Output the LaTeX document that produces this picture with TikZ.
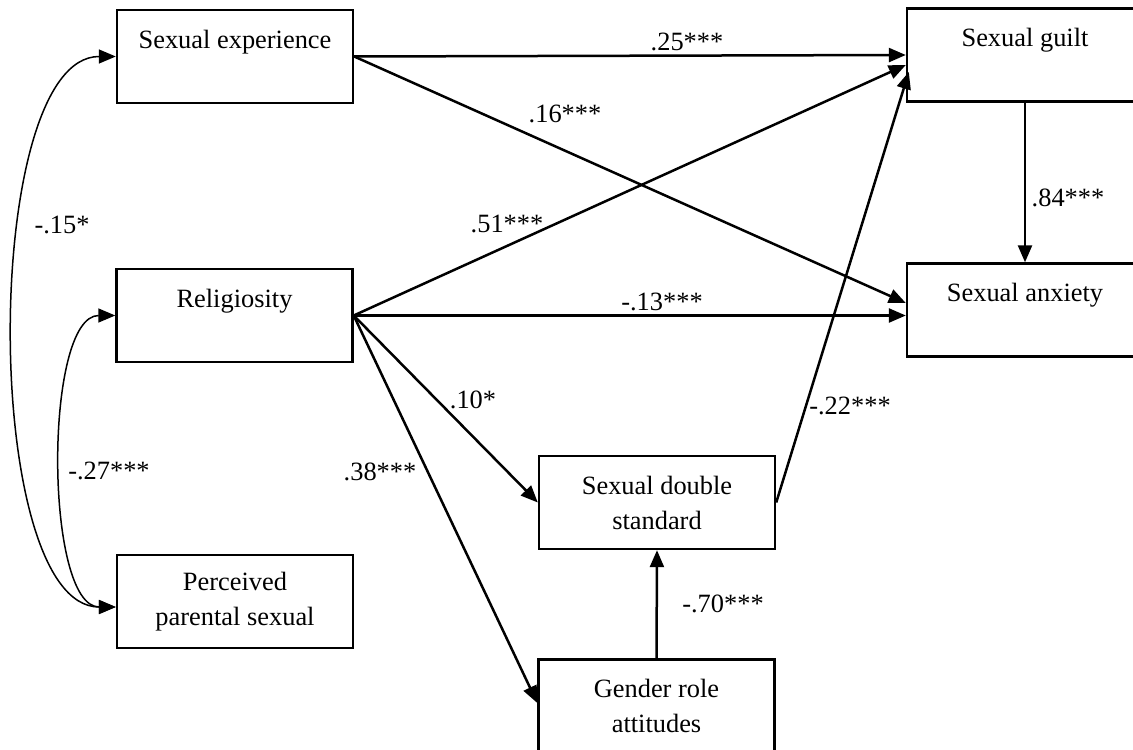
\documentclass[tikz,border=0pt]{standalone}
\usepackage{fontspec}
\setmainfont{Liberation Serif}
\usepackage{tikz}
\usetikzlibrary{arrows.meta}

\begin{document}
\begin{tikzpicture}
	[x=0.5pt, y=-0.5pt, font=\fontsize{13.2}{17.5}\selectfont, inner sep=0pt,
	measure/.style	= {rectangle, draw, line width=1.2pt, align=center, minimum width=118pt, minimum height=46.5pt},
	paths/.style	= {-{Triangle[length=8.5pt,width=7pt]}, line width=1.25pt},
	covar/.style	= {{Triangle[length=8.5pt,width=7pt]}-{Triangle[length=8.5pt,width=7pt]}, line width=0.75pt},
	coef/.style	= {inner sep=0pt}]
	
	\useasboundingbox [fill=white] (0, 0) rectangle (1133, 749);
	\clip (0, 0) rectangle (1133, 749);
	
	\node at (235, 56.5)	[measure]	(exp)	{Sexual experience\\~};
	\node at (234.5, 315.5)	[measure]	(rel)	{Religiosity\\~};
	\node at (235, 601.5)	[measure]	(par)	{Perceived\\parental sexual};
	
	\node at (1025, 55)		[measure]	(guilt)	{Sexual guilt\\~};
	\node at (1025, 310)	[measure]	(anx)	{Sexual anxiety\\~};
	
	\node at (657, 502.5)	[measure]	(dbl)	{Sexual double\\standard};
	\node at (656.5, 706)	[measure]	(gen)	{Gender role\\attitudes};
	
	\draw [paths] (exp.east) -- (guilt.west);
	\draw [paths] (exp.east) -- ([yshift=3.5pt]anx.west);
	\draw [paths] (rel.east) -- ([yshift=-5pt]guilt.west);
	\draw [paths] (rel.east) -- (rel.east -| anx.west);
	\draw [paths] (rel.east) -- (dbl.west);
	\draw [paths] (rel.east) -- ([yshift=1.5pt]gen.west);
	\draw [paths] (dbl.east) -- ([xshift=1.5pt, yshift=-8.5pt]guilt.west);
	\draw [paths] (gen.north) -- (dbl.south);
	\draw [paths] (guilt.south) -- (anx.north);
	
	\draw [covar] (exp.west) to[out=180, in=180, looseness=0.63] ([yshift=-2.75pt]par.west);
	\draw [covar] (rel.west) to[out=180, in=180, looseness=0.63] ([yshift=-2.75pt]par.west);
	
	\node at (687, 42)		[coef]	(c1)	{.25***};
	\node at (565, 114)		[coef]	(c2)	{.16***};
	\node at (507, 224)		[coef]	(c3)	{.51***};
	\node at (662, 302)		[coef]	(c4)	{-.13***};
	\node at (473, 400)		[coef]	(c5)	{.10*};
	\node at (380, 472)		[coef]	(c6)	{.38***};
	\node at (850, 406)		[coef]	(c7)	{-.22***};
	\node at (723, 604)		[coef]	(c8)	{-.70***};
	\node at (1068, 198)	[coef]	(c9)	{.84***};
	\node at (62, 225)		[coef]	(c10)	{-.15*};
	\node at (109, 471)		[coef]	(c11)	{-.27***};
\end{tikzpicture}
\end{document}
